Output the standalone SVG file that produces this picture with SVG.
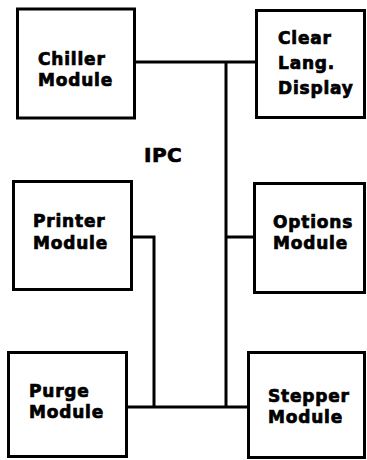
<svg xmlns="http://www.w3.org/2000/svg" width="367" height="460" viewBox="0 0 367 460">
<style>
.box{fill:#fff;stroke:#000;stroke-width:3}
.t{font-family:"DejaVu Sans",sans-serif;font-weight:bold;font-size:17px;fill:#000;stroke:#000;stroke-width:0.7;letter-spacing:0.8px}
.ln{fill:none;stroke:#000;stroke-width:3}
</style>
<rect width="367" height="460" fill="#fff"/>
<g id="connectors">
<path class="ln" d="M135 62H256M226 62V407M226 237H254M132 237H154V407M127 407H248"/>
</g>
<g id="chiller"><rect class="box" x="17.5" y="9" width="117" height="109"/><text class="t" x="38" y="65">Chiller</text><text class="t" x="38" y="86">Module</text></g>
<g id="clear"><rect class="box" x="256.5" y="10.5" width="108" height="107"/><text class="t" x="278" y="44">Clear</text><text class="t" x="278" y="69">Lang.</text><text class="t" x="278" y="94">Display</text></g>
<g id="ipc"><text class="t" x="144" y="162" style="font-size:20px;letter-spacing:0.5px">IPC</text></g>
<g id="printer"><rect class="box" x="13.5" y="181.5" width="118" height="108"/><text class="t" x="33" y="227">Printer</text><text class="t" x="33" y="249">Module</text></g>
<g id="options"><rect class="box" x="254.5" y="183.5" width="110" height="109"/><text class="t" x="273" y="228">Options</text><text class="t" x="273" y="249">Module</text></g>
<g id="purge"><rect class="box" x="8.5" y="352.5" width="118" height="104"/><text class="t" x="29" y="397">Purge</text><text class="t" x="29" y="418">Module</text></g>
<g id="stepper"><rect class="box" x="248.5" y="352.5" width="116" height="105"/><text class="t" x="268" y="402">Stepper</text><text class="t" x="268" y="423">Module</text></g>
</svg>
